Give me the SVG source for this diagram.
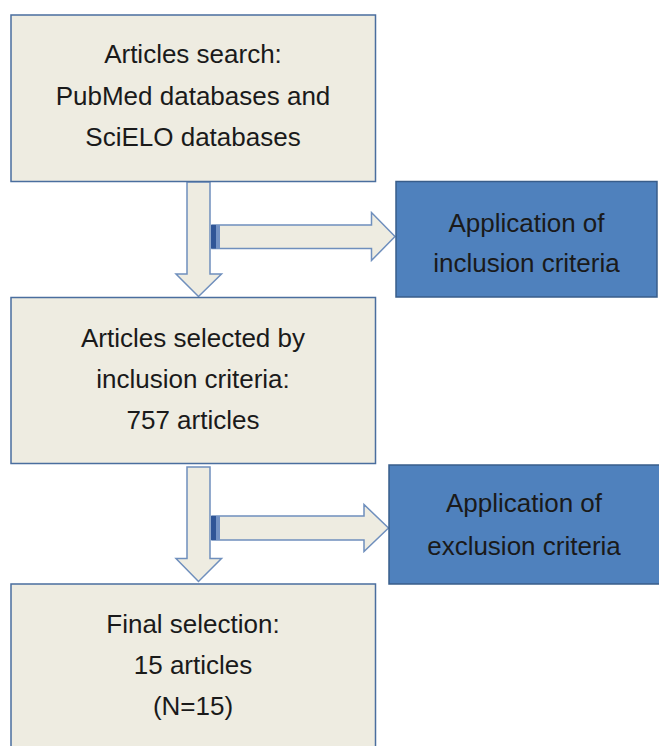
<svg xmlns="http://www.w3.org/2000/svg" width="659" height="746" viewBox="0 0 659 746">
  <style>
    .box { fill: #EEECE1; stroke: #4A6E9E; stroke-width: 1.5; }
    .blue { fill: #4F81BD; stroke: #385D8A; stroke-width: 1.5; }
    .arrow { fill: #EEECE1; stroke: #6F8FBD; stroke-width: 1.5; stroke-linejoin: miter; }
    .tabd { fill: #2F5597; }
    .tabl { fill: #7392C4; }
    text { font-family: "Liberation Sans", Arial, sans-serif; font-size: 26px; fill: #1A1A1A; text-anchor: middle; }
  </style>
  <rect width="659" height="746" fill="#FFFFFF"/>

  <g id="connectors">
    <g id="down1">
      <polygon class="arrow" points="187,182 210,182 210,274 221.5,274 198.5,296.5 176,274 187,274"/>
    </g>
    <g id="right1">
      <polygon class="arrow" points="212,225 371.5,225 371.5,212.5 395,236.5 371.5,260.5 371.5,248.5 212,248.5"/>
      <rect class="tabd" x="211" y="225" width="5" height="23.5"/>
      <rect class="tabl" x="216" y="225" width="4" height="23.5"/>
    </g>
    <g id="down2">
      <polygon class="arrow" points="187,467 210,467 210,558.5 221.5,558.5 198.5,581.5 176,558.5 187,558.5"/>
    </g>
    <g id="right2">
      <polygon class="arrow" points="212,516 364,516 364,504.5 388.5,528 364,551.5 364,540 212,540"/>
      <rect class="tabd" x="211" y="516" width="5" height="24"/>
      <rect class="tabl" x="216" y="516" width="4" height="24"/>
    </g>
  </g>

  <g id="node-search">
    <rect class="box" x="11" y="15" width="364.5" height="166.5"/>
    <text x="193" y="63">Articles search:</text>
    <text x="193" y="104.5">PubMed databases and</text>
    <text x="193" y="145.5">SciELO databases</text>
  </g>

  <g id="node-inclusion">
    <rect class="blue" x="396" y="181.5" width="261" height="115.5"/>
    <text x="526.5" y="231.5">Application of</text>
    <text x="526.5" y="272">inclusion criteria</text>
  </g>

  <g id="node-selected">
    <rect class="box" x="11" y="297.5" width="364.5" height="166"/>
    <text x="193" y="346.5">Articles selected by</text>
    <text x="193" y="388">inclusion criteria:</text>
    <text x="193" y="428.5">757 articles</text>
  </g>

  <g id="node-exclusion">
    <rect class="blue" x="389" y="465" width="272" height="119"/>
    <text x="524" y="512">Application of</text>
    <text x="524" y="554.5">exclusion criteria</text>
  </g>

  <g id="node-final">
    <rect class="box" x="11" y="584" width="364.5" height="170"/>
    <text x="193" y="633">Final selection:</text>
    <text x="193" y="674">15 articles</text>
    <text x="193" y="715">(N=15)</text>
  </g>
</svg>
